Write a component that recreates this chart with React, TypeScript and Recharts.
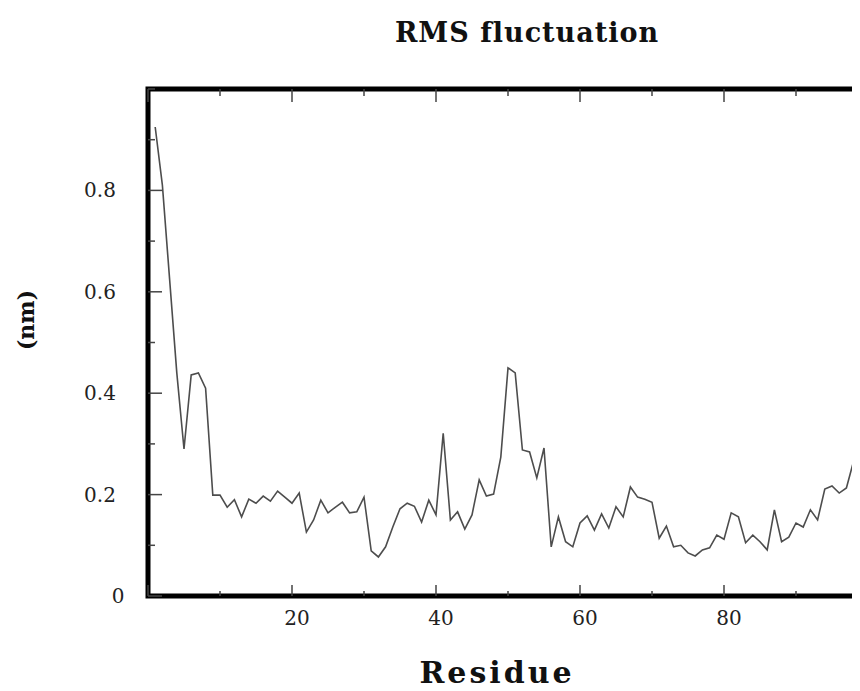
import React from 'react';
import { LineChart, Line, XAxis, YAxis, ReferenceArea } from 'recharts';

// residue axis ticks (minor every 10, labels every 20)
const residueTicks = [0, 10, 20, 30, 40, 50, 60, 70, 80, 90, 100];
const labelledResidues = [20, 40, 60, 80];

// rms axis ticks (minor every 0.1, labels every 0.2)
const rmsTicks = [0, 0.1, 0.2, 0.3, 0.4, 0.5, 0.6, 0.7, 0.8, 0.9, 1.0];
const labelledRms = [0, 0.2, 0.4, 0.6, 0.8];

// RMS fluctuation (nm) for residues 1..99
const rmsf = [
  0.925, 0.81, 0.625, 0.44, 0.29, 0.436, 0.44, 0.41, 0.199, 0.199,
  0.175, 0.19, 0.156, 0.191, 0.183, 0.197, 0.187, 0.207, 0.195, 0.183,
  0.203, 0.126, 0.15, 0.189, 0.164, 0.175, 0.185, 0.164, 0.166, 0.195,
  0.089, 0.077, 0.097, 0.136, 0.172, 0.183, 0.177, 0.146, 0.189, 0.16,
  0.321, 0.15, 0.166, 0.132, 0.16, 0.229, 0.197, 0.201, 0.274, 0.45,
  0.44, 0.288, 0.284, 0.233, 0.292, 0.097, 0.156, 0.107, 0.097, 0.144,
  0.158, 0.13, 0.162, 0.134, 0.176, 0.156, 0.215, 0.195, 0.191, 0.185,
  0.114, 0.138, 0.097, 0.1, 0.085, 0.079, 0.091, 0.095, 0.12, 0.112,
  0.164, 0.156, 0.105, 0.12, 0.107, 0.091, 0.17, 0.107, 0.116, 0.144,
  0.136, 0.17, 0.15, 0.211, 0.217, 0.203, 0.213, 0.266, 0.302,
];

const data = rmsf.map((value, i) => ({ residue: i + 1, rmsf: value }));

const PLOT = { left: 140, right: 860, top: 81, bottom: 588 };
const FONT = '"DejaVu Serif", serif';
const TICK_COLOR = '#444';

const ResidueTick = ({ x, payload }: any) => {
  const v = payload.value;
  const major = v % 20 === 0;
  return (
    <g>
      <line x1={x} x2={x} y1={PLOT.bottom} y2={PLOT.bottom - (major ? 11 : 5)} stroke={TICK_COLOR} strokeWidth={1.5} />
      <line x1={x} x2={x} y1={PLOT.top} y2={PLOT.top + (major ? 13 : 7)} stroke={TICK_COLOR} strokeWidth={1.5} />
      {labelledResidues.includes(v) && (
        <text x={x + 5} y={PLOT.bottom + 29} textAnchor="middle" fontFamily={FONT} fontSize={20} fill="#222">
          {v}
        </text>
      )}
    </g>
  );
};

const RmsTick = ({ y, payload }: any) => {
  const v = payload.value;
  const major = labelledRms.includes(v);
  return (
    <g>
      <line x1={PLOT.left} x2={PLOT.left + (major ? 14 : 7)} y1={y} y2={y} stroke={TICK_COLOR} strokeWidth={1.5} />
      <line x1={PLOT.right} x2={PLOT.right - (major ? 12 : 6)} y1={y} y2={y} stroke={TICK_COLOR} strokeWidth={1.5} />
      {major && (
        <text x={v === 0 ? 110 : 92} y={y + 7} textAnchor="middle" fontFamily={FONT} fontSize={20} fill="#222">
          {v === 0 ? '0' : v.toFixed(1)}
        </text>
      )}
    </g>
  );
};

const App: React.FC = () => {
  return (
    <div style={{ position: 'relative', width: 852, height: 683, overflow: 'hidden', background: '#fff' }}>
      <LineChart
        width={1000}
        height={683}
        data={data}
        margin={{ top: PLOT.top, right: 1000 - PLOT.right, left: PLOT.left - 60, bottom: 683 - PLOT.bottom - 40 }}
      >
        <XAxis
          type="number"
          dataKey="residue"
          domain={[0, 100]}
          ticks={residueTicks}
          interval={0}
          tick={<ResidueTick />}
          tickLine={false}
          axisLine={false}
          height={40}
          allowDataOverflow
        />
        <YAxis
          type="number"
          domain={[0, 1]}
          ticks={rmsTicks}
          interval={0}
          tick={<RmsTick />}
          tickLine={false}
          axisLine={false}
          width={60}
          allowDataOverflow
        />
        <Line
          type="linear"
          dataKey="rmsf"
          stroke="#4d4d4d"
          strokeWidth={1.6}
          dot={false}
          isAnimationActive={false}
        />
        <ReferenceArea x1={0} x2={100} y1={0} y2={1} fill="none" stroke="#000" strokeWidth={5} />
      </LineChart>
      <svg
        width={852}
        height={683}
        style={{ position: 'absolute', left: 0, top: 0, pointerEvents: 'none' }}
      >
        <text x={519} y={34} textAnchor="middle" fontFamily={FONT} fontWeight="bold" fontSize={27} letterSpacing={1} fill="#111">
          RMS fluctuation
        </text>
        <text x={489} y={675} textAnchor="middle" fontFamily={FONT} fontWeight="bold" fontSize={30} letterSpacing={3} fill="#111">
          Residue
        </text>
        <text
          x={18}
          y={312}
          textAnchor="middle"
          dominantBaseline="central"
          transform="rotate(-90 18 312)"
          fontFamily={FONT}
          fontWeight="bold"
          fontSize={22}
          fill="#111"
        >
          (nm)
        </text>
      </svg>
    </div>
  );
};

export default App;
